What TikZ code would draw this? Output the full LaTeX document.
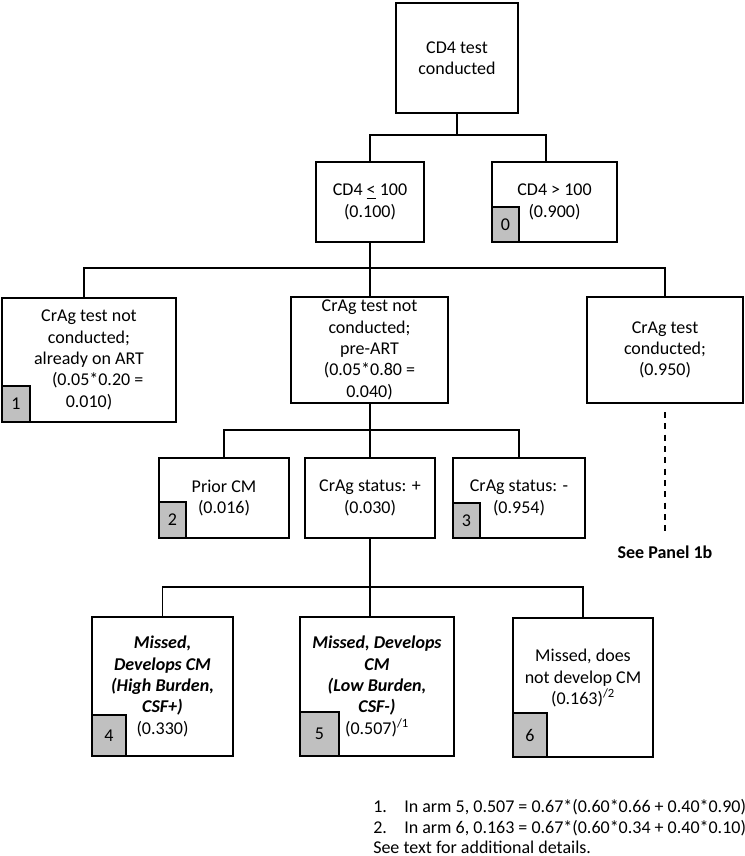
\documentclass[tikz,border=0pt]{standalone}
\usepackage{fontspec}
\setmainfont{Carlito}
\definecolor{numgray}{HTML}{C0C0C0}
\begin{document}
\begin{tikzpicture}[x=0.75pt,y=-0.75pt,
  every node/.style={font=\fontsize{13.5pt}{16pt}\selectfont},
  box/.style={draw, line width=1.5pt, inner sep=0pt, align=center},
  numbox/.style={draw, line width=1.5pt, fill=numgray, inner sep=0pt, anchor=south west},
  conn/.style={line width=1.2pt},
  dconn/.style={line width=1.2pt, dash pattern=on 4.5pt off 4pt},
  plain/.style={inner sep=0pt, align=center}]
\useasboundingbox (0,0) rectangle (745,856);

% level 1
\node[box, minimum width=91.5pt, minimum height=82.5pt] (top) at (457,58) {CD4 test\\conducted};
% level 2
\node[box, minimum width=81pt, minimum height=60pt] (c1) at (370,202) {CD4 \underline{<} 100\\(0.100)};
\node[box, minimum width=93.75pt, minimum height=60pt] (c2) at (554.5,202) {CD4 > 100\\(0.900)};
\node[numbox, minimum width=20.25pt, minimum height=26.25pt] (g0) at (c2.south west) {0};
% level 3
\node[box, minimum width=130.5pt, minimum height=93pt] (b1) at (89,360) {CrAg test not\\conducted;\\already on ART\\\hspace*{13pt}(0.05*0.20 =\\0.010)};
\node[numbox, minimum width=21pt, minimum height=27pt] (g1) at (b1.south west) {1};
\node[box, minimum width=117.75pt, minimum height=79.5pt] (b2) at (369.5,350) {CrAg test not\\conducted;\\pre-ART\\(0.05*0.80 =\\0.040)};
\node[box, minimum width=117pt, minimum height=79.5pt] (b3) at (665,350) {CrAg test\\conducted;\\(0.950)};
% level 4
\node[box, minimum width=97.5pt, minimum height=60pt] (d1) at (224,498) {Prior CM\\(0.016)};
\node[numbox, minimum width=20.25pt, minimum height=27pt] (g2) at (d1.south west) {2};
\node[box, minimum width=97.5pt, minimum height=60pt] (d2) at (370,498) {CrAg status: +\\(0.030)};
\node[box, minimum width=99pt, minimum height=60pt] (d3) at (519,498) {CrAg status: -\\(0.954)};
\node[numbox, minimum width=20.25pt, minimum height=26.25pt] (g3) at (d3.south west) {3};
% level 5
\node[box, minimum width=105.75pt, minimum height=104.25pt] (e1) at (162.5,686.5) {\textbf{\textit{Missed,}}\\\textbf{\textit{Develops CM}}\\\textbf{\textit{(High Burden,}}\\\textbf{\textit{CSF+)}}\\(0.330)};
\node[numbox, minimum width=25.5pt, minimum height=30.75pt] (g4) at (e1.south west) {4};
\node[box, minimum width=115.5pt, minimum height=104.25pt] (e2) at (377,686.5) {\textbf{\textit{Missed, Develops}}\\\textbf{\textit{CM}}\\\textbf{\textit{(Low Burden,}}\\\textbf{\textit{CSF-)}}\\(0.507)\textsuperscript{/1}};
\node[numbox, minimum width=29.25pt, minimum height=33pt] (g5) at (e2.south west) {5};
\node[box, minimum width=105pt, minimum height=104.25pt] (e3) at (583,687.5) {};
\node[plain] (e3t) at (583,678) {Missed, does\\not develop CM\\(0.163)\textsuperscript{/2}};
\node[numbox, minimum width=25.5pt, minimum height=33pt] (g6) at (e3.south west) {6};

% see panel
\node[plain] (see) at (665,552) {\textbf{See Panel 1b}};
\coordinate (dstart) at (665,412);
\coordinate (dend) at (665,535);
\draw[dconn] (dstart) -- (dend);

% connectors
\coordinate (j1) at (457,135);
\draw[conn] (top.south) -- (j1);
\draw[conn] (c1.north) |- (j1) -| ([xshift=-6.4pt]c2.north);
\coordinate (j2) at (370,268);
\draw[conn] (c1.south) -- (j2);
\draw[conn] ([xshift=-3.75pt]b1.north) |- (j2) -| (b3.north);
\draw[conn] (j2) -- (j2 |- b2.north);
\coordinate (j3) at (370,430);
\draw[conn] (j3 |- b2.south) -- (j3);
\draw[conn] (d1.north) |- (j3) -| (d3.north);
\draw[conn] (j3) -- (d2.north);
\coordinate (j4) at (370,587);
\draw[conn] (d2.south) -- (j4);
\draw[conn] (e1.north) |- (j4) -| (e3.north);
\draw[conn] (j4) -- (j4 |- e2.north);

% footnotes
\node[anchor=base west, inner sep=0pt] (f1n) at (373,812) {1.};
\node[anchor=base west, inner sep=0pt] (f1) at (404,812) {In arm 5, 0.507 = 0.67*(0.60*0.66 + 0.40*0.90)};
\node[anchor=base west, inner sep=0pt] (f2n) at (373,833) {2.};
\node[anchor=base west, inner sep=0pt] (f2) at (404,833) {In arm 6, 0.163 = 0.67*(0.60*0.34 + 0.40*0.10)};
\node[anchor=base west, inner sep=0pt] (f3) at (373,853) {See text for additional details.};
\end{tikzpicture}
\end{document}
